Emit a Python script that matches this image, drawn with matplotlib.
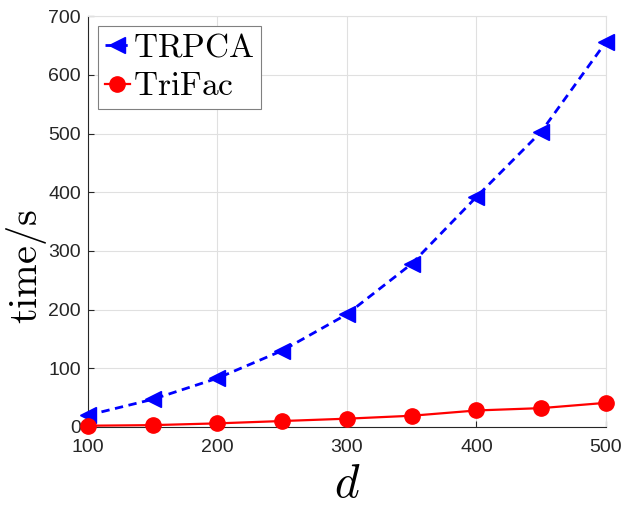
import matplotlib
matplotlib.use("Agg")
import matplotlib.pyplot as plt

plt.rcParams['mathtext.fontset'] = 'cm'
plt.rcParams['font.family'] = ['Liberation Sans', 'DejaVu Sans']

d = [100, 150, 200, 250, 300, 350, 400, 450, 500]
trpca = [20, 47, 83, 130, 192, 278, 392, 503, 656]
trifac = [2, 3, 6, 10, 14, 19, 28, 32, 41]
xticks = [100, 200, 300, 400, 500]
yticks = [0, 100, 200, 300, 400, 500, 600, 700]

fig = plt.figure(figsize=(6.24, 5.07), dpi=100)
ax = fig.add_axes([0.141, 0.158, 0.830, 0.810])

ax.plot(d, trpca, color='blue', linestyle='--', linewidth=2, marker='<',
        markersize=11, label=r'$\mathrm{TRPCA}$', dashes=(3, 2), clip_on=False, zorder=3)
ax.plot(d, trifac, color='red', linestyle='-', linewidth=1.6, marker='o',
        markersize=11, label=r'$\mathrm{TriFac}$', clip_on=False, zorder=3)

ax.set_xlim(100, 500)
ax.set_ylim(0, 700)
ax.set_xticks(xticks)
ax.set_yticks(yticks)
ax.grid(True, color='#e0e0e0', linewidth=0.8)
ax.set_axisbelow(True)
for s in ['top', 'right']:
    ax.spines[s].set_color('#e0e0e0')
    ax.spines[s].set_linewidth(0.8)
for s in ['left', 'bottom']:
    ax.spines[s].set_color('#262626')
    ax.spines[s].set_linewidth(0.8)
ax.tick_params(direction='in', length=4, labelsize=14, colors='#262626', width=0.8)
ax.tick_params(axis='x', pad=8.5)
ax.tick_params(axis='y', pad=5)

ax.set_xlabel(r'$d$', fontsize=34, labelpad=5)
ax.set_ylabel(r'$\mathrm{time/s}$', fontsize=29)
ax.yaxis.set_label_coords(-0.076, 0.39)

leg = ax.legend(loc='upper left', fontsize=24, frameon=True, fancybox=False,
                edgecolor='#808080', handlelength=0.75, handletextpad=0.1,
                borderpad=0.2, labelspacing=0.22, borderaxespad=0.3, framealpha=1)
leg.get_frame().set_linewidth(0.8)

fig.savefig('out.png', dpi=100)
